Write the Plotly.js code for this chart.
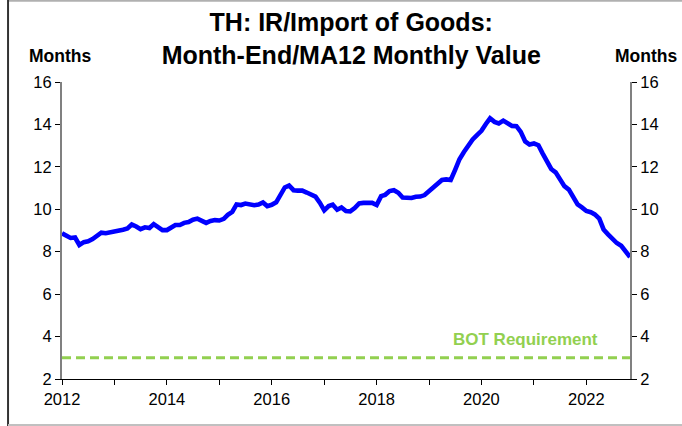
<!DOCTYPE html>
<html>
<head>
<meta charset="utf-8">
<script src="https://cdn.plot.ly/plotly-3.0.1.min.js"></script>
<style>html,body{margin:0;padding:0;background:#fff;}#chart{width:682px;height:426px;}</style>
</head>
<body>
<div id="chart"></div>
<script>
// Monthly values, Jan 2012 .. Nov 2022 (months of import cover)
const startYear = 2012;
const irValues = [
 8.87, 8.75, 8.65, 8.67, 8.32, 8.45, 8.49, 8.60, 8.78, 8.90, 8.87, 8.90,
 8.94, 8.99, 9.04, 9.10, 9.28, 9.19, 9.06, 9.15, 9.12, 9.30, 9.17, 9.02,
 9.02, 9.12, 9.26, 9.26, 9.36, 9.40, 9.51, 9.56, 9.47, 9.36, 9.45, 9.49,
 9.47, 9.55, 9.74, 9.88, 10.23, 10.20, 10.27, 10.22, 10.19, 10.22, 10.32, 10.15,
 10.21, 10.33, 10.70, 11.03, 11.12, 10.90, 10.88, 10.88, 10.79, 10.68, 10.60, 10.31,
 9.95, 10.15, 10.22, 9.98, 10.09, 9.92, 9.90, 10.06, 10.28, 10.30, 10.28, 10.30,
 10.20, 10.62, 10.68, 10.86, 10.90, 10.78, 10.55, 10.52, 10.53, 10.59, 10.60, 10.67,
 10.86, 11.06, 11.25, 11.38, 11.41, 11.38, 11.85, 12.36, 12.70, 13.02, 13.29, 13.50,
 13.70, 14.02, 14.29, 14.12, 14.05, 14.18, 14.04, 13.93, 13.92, 13.65, 13.20, 13.05,
 13.10, 13.02, 12.65, 12.28, 11.90, 11.74, 11.40, 11.09, 10.93, 10.59, 10.23, 10.09,
 9.92, 9.86, 9.76, 9.56, 9.05, 8.82, 8.61, 8.41, 8.28, 8.03, 7.75
];
const botRequirement = 3;
const yTicks = [2, 4, 6, 8, 10, 12, 14, 16];
const xTickYears = ['2012', '2014', '2016', '2018', '2020', '2022'];
const titleText = '<b>TH: IR/Import of Goods:<br>Month-End/MA12 Monthly Value</b>';
const axisLabel = 'Months';
const reqLabel = 'BOT Requirement';

const dates = irValues.map((v, i) => {
  const y = startYear + Math.floor(i / 12);
  const m = (i % 12) + 1;
  return y + '-' + String(m).padStart(2, '0') + '-01';
});
const xStart = dates[0];
const xEnd = dates[dates.length - 1];

const font = 'Liberation Sans, Arial, sans-serif';
const green = '#92D050';

const traces = [
  {x: dates, y: irValues, type: 'scatter', mode: 'lines',
   line: {color: '#0000FF', width: 4.6}, hoverinfo: 'skip'},
  {x: [xStart, xEnd], y: [botRequirement, botRequirement], type: 'scatter', mode: 'lines',
   line: {color: green, width: 3, dash: '9px,5px'}, hoverinfo: 'skip'},
  {x: [xStart], y: [2], yaxis: 'y2', type: 'scatter', mode: 'markers',
   marker: {opacity: 0}, hoverinfo: 'skip'}
];

const tickvals = xTickYears.map(y => y + '-01-01');
const allYears = [];
for (let y = 2012; y <= 2022; y++) allYears.push(y + '-01-01');

const tickFont = {size: 16.5, family: font, color: '#000'};

const layout = {
  width: 682, height: 426,
  margin: {l: 62, r: 52, t: 82, b: 47},
  paper_bgcolor: '#fff', plot_bgcolor: '#fff',
  showlegend: false,
  font: {family: font, size: 16, color: '#000'},
  title: {text: titleText, x: 0.515, xanchor: 'center', y: 0.9266, yanchor: 'top',
          font: {family: font, size: 25, color: '#000'}},
  xaxis: {
    type: 'date', range: [xStart, xEnd],
    tickmode: 'array', tickvals: allYears,
    ticktext: allYears.map(d => tickvals.includes(d) ? d.slice(0, 4) : ''),
    ticks: 'outside', ticklen: 5, tickcolor: '#000', tickwidth: 1,
    showline: true, linecolor: '#000', linewidth: 1,
    showgrid: false, zeroline: false,
    tickfont: tickFont
  },
  yaxis: {
    range: [2, 16], tickmode: 'array', tickvals: yTicks,
    ticks: 'outside', ticklen: 5, tickcolor: '#000',
    showline: true, linecolor: '#808080', linewidth: 2,
    showgrid: false, zeroline: false,
    tickfont: tickFont
  },
  yaxis2: {
    range: [2, 16], tickmode: 'array', tickvals: yTicks, overlaying: 'y', side: 'right',
    ticks: 'outside', ticklen: 5, tickcolor: '#000',
    showline: true, linecolor: '#808080', linewidth: 2,
    showgrid: false, zeroline: false,
    tickfont: tickFont
  },
  annotations: [
    {text: '<b>' + axisLabel + '</b>', xref: 'paper', yref: 'paper', x: -0.0035, y: 1.0875,
     xanchor: 'center', yanchor: 'middle', showarrow: false, font: {size: 17.5, family: font}},
    {text: '<b>' + axisLabel + '</b>', xref: 'paper', yref: 'paper', x: 1.028, y: 1.0875,
     xanchor: 'center', yanchor: 'middle', showarrow: false, font: {size: 17.5, family: font}},
    {text: '<b>' + reqLabel + '</b>', xref: 'paper', yref: 'y', x: 0.947, y: 3.88,
     xanchor: 'right', yanchor: 'middle', showarrow: false, font: {size: 17, family: font, color: green}}
  ],
  shapes: [
    {type: 'line', xref: 'paper', yref: 'paper', x0: -0.095, x1: 1.1, y0: 1.2735, y1: 1.2735,
     line: {color: '#B0B0B0', width: 2}},
    {type: 'line', xref: 'paper', yref: 'paper', x0: -0.095, x1: -0.095, y0: -0.16, y1: 1.277,
     line: {color: '#333', width: 2}},
    {type: 'line', xref: 'paper', yref: 'paper', x0: -0.095, x1: 1.1, y0: -0.1545, y1: -0.1545,
     line: {color: '#C0C0C0', width: 2}}
  ]
};

Plotly.newPlot('chart', traces, layout, {displayModeBar: false, staticPlot: true});
</script>
</body>
</html>
